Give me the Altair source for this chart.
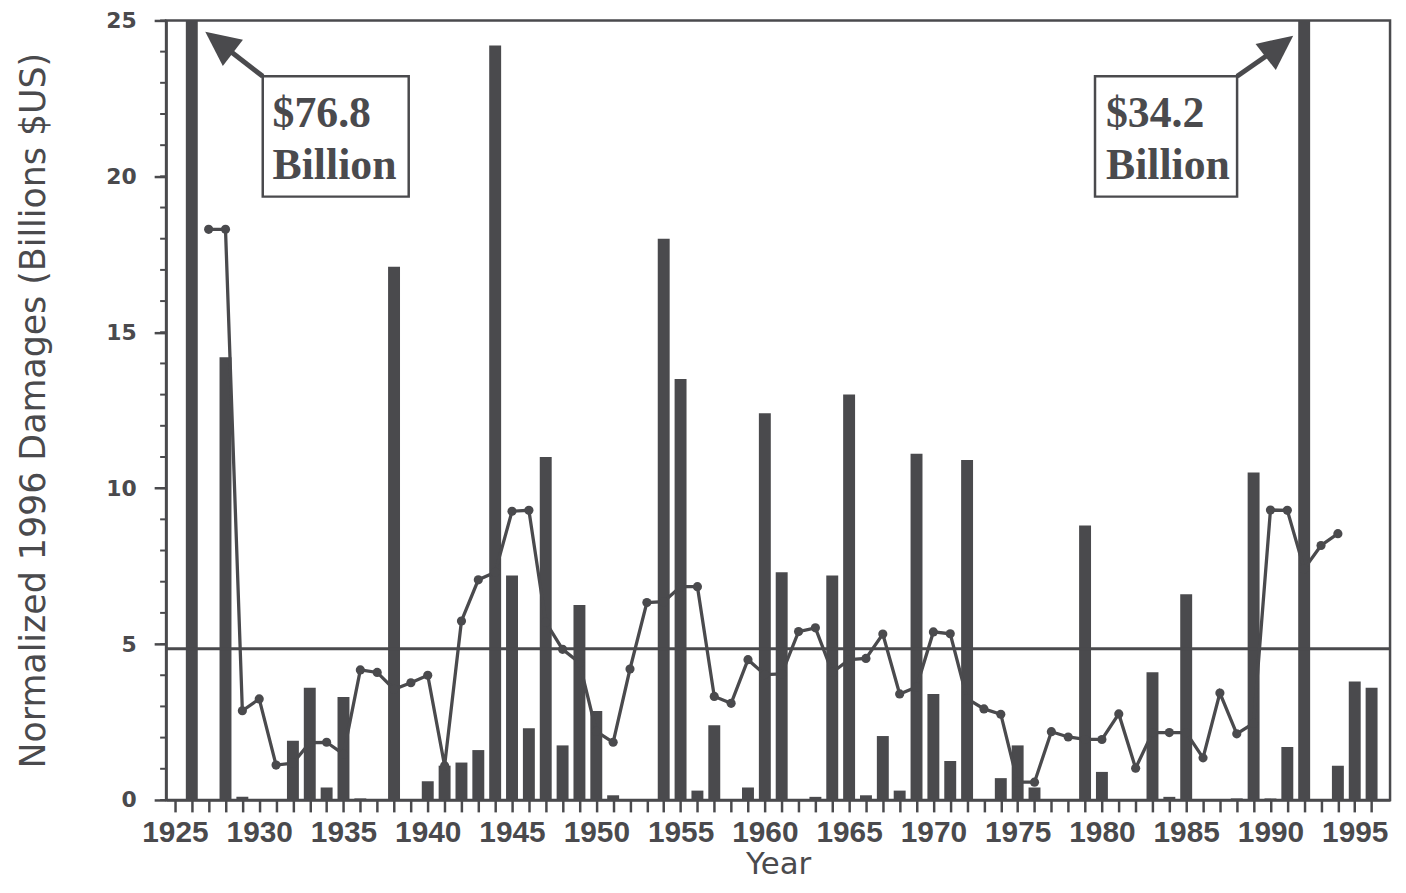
import altair as alt
import pandas as pd

C = "#4a4a4d"

# ---- data ----
years = list(range(1925, 1997))
damages = [0, 76.8, 0, 14.2, 0.1, 0, 0, 1.9, 3.6, 0.4,
           3.3, 0.05, 0, 17.1, 0, 0.6, 1.1, 1.2, 1.6, 24.2,
           7.2, 2.3, 11.0, 1.75, 6.25, 2.85, 0.15, 0, 0, 18.0,
           13.5, 0.3, 2.4, 0, 0.4, 12.4, 7.3, 0, 0.1, 7.2,
           13.0, 0.15, 2.05, 0.3, 11.1, 3.4, 1.25, 10.9, 0, 0.7,
           1.75, 0.4, 0, 0, 8.8, 0.9, 0, 0, 4.1, 0.1,
           6.6, 0, 0, 0.05, 10.5, 0.05, 1.7, 34.2, 0, 1.1,
           3.8, 3.6]

smooth_years = list(range(1927, 1995))
smooth_vals = [18.3, 18.3, 2.86, 3.24, 1.12, 1.18, 1.84, 1.85, 1.47, 4.17,
               4.09, 3.55, 3.76, 4.0, 1.1, 5.74, 7.06, 7.3, 9.26, 9.29,
               5.7, 4.83, 4.4, 2.2, 1.85, 4.2, 6.33, 6.36, 6.84, 6.84,
               3.32, 3.1, 4.5, 4.02, 4.04, 5.4, 5.52, 4.09, 4.5, 4.54,
               5.32, 3.4, 3.62, 5.39, 5.33, 3.25, 2.92, 2.75, 0.57, 0.57,
               2.19, 2.02, 1.94, 1.94, 2.76, 1.02, 2.16, 2.16, 2.16, 1.35,
               3.43, 2.12, 2.46, 9.3, 9.29, 7.41, 8.16, 8.54]

mean_level = [4.85]
minor_ticks = list(range(0, 26))
x_ticks = list(range(1925, 1997))
y_major = [0, 5, 10, 15, 20, 25]

# annotation boxes (data coordinates)
box_x0 = [1930.21, 1979.59]
box_x1 = [1938.87, 1988.02]
box_y0 = [19.35, 19.35]
box_y1 = [23.21, 23.21]
note_text = ["$76.8", "Billion", "$34.2", "Billion"]
note_x = [1930.79, 1930.79, 1980.24, 1980.24]
note_y = [21.59, 19.93, 21.59, 19.93]
shaft_x0 = [1930.21, 1988.02]
shaft_y0 = [23.21, 23.21]
shaft_x1 = [1927.81, 1990.33]
shaft_y1 = [24.21, 24.08]
tip_x = [1926.80, 1991.35]
tip_y = [24.64, 24.51]
tip_angle = [307.5, 52.3]

# ---- tables ----
bars = pd.DataFrame({"year": years, "v": damages})
smooth = pd.DataFrame({"year": smooth_years, "v": smooth_vals})
mean_df = pd.DataFrame({"v": mean_level})
minor_df = pd.DataFrame({"v": minor_ticks})
boxes = pd.DataFrame({"year": box_x0, "x1": box_x1, "v": box_y0, "y1": box_y1})
notes = pd.DataFrame({"year": note_x, "v": note_y, "t": note_text})
shafts = pd.DataFrame({"year": shaft_x0, "v": shaft_y0, "x1": shaft_x1, "y1": shaft_y1})
tips = pd.DataFrame({"year": tip_x, "v": tip_y, "ang": tip_angle})

xs = alt.Scale(domain=[1924.77, 1996.8], nice=False, zero=False)
ys = alt.Scale(domain=[0, 25], nice=False, zero=True)

xaxis = alt.Axis(
    values=x_ticks, format="d",
    labelExpr="datum.value % 5 == 0 ? datum.label : ''",
    tickSize=12, tickWidth=2.5, tickColor=C,
    domainColor=C, domainWidth=2.5,
    labelFont="Liberation Sans", labelFontWeight="bold", labelFontSize=30,
    labelColor=C, labelPadding=6, labelFlush=False, labelOverlap=False,
    grid=False,
    title="Year", titleFont="DejaVu Sans", titleFontSize=31,
    titleFontWeight="normal", titleColor=C, titleY=74, titleBaseline="alphabetic",
)
yaxis = alt.Axis(
    values=y_major, format="d",
    tickSize=12, tickWidth=2.5, tickColor=C,
    domainColor=C, domainWidth=2.5,
    labelFont="DejaVu Sans", labelFontWeight="bold", labelFontSize=22,
    labelColor=C, labelPadding=18, grid=False,
    title="Normalized 1996 Damages (Billions $US)",
    titleFont="DejaVu Sans", titleFontSize=35, titleFontWeight="normal",
    titleColor=C, titleX=-122, titleY=392, titleAngle=270,
    titleAlign="center", titleBaseline="alphabetic",
)

X = alt.X("year:Q", scale=xs, axis=xaxis)
Y = alt.Y("v:Q", scale=ys, axis=yaxis)

bar_layer = alt.Chart(bars).mark_bar(size=12, color=C, clip=True).encode(x=X, y=Y)

mean_layer = alt.Chart(mean_df).mark_rule(color=C, strokeWidth=3).encode(y=Y)

line_layer = alt.Chart(smooth).mark_line(
    color=C, strokeWidth=3.3,
    point=alt.OverlayMarkDef(filled=True, size=85, color=C, opacity=1),
).encode(x=X, y=Y)

minor_layer = alt.Chart(minor_df).mark_rule(color=C, strokeWidth=2).encode(
    y=Y, x=alt.value(-6), x2=alt.value(0)
)

box_layer = alt.Chart(boxes).mark_rect(fill="white", stroke=C, strokeWidth=2.5).encode(
    x=X, x2="x1:Q", y=Y, y2="y1:Q"
)

shaft_layer = alt.Chart(shafts).mark_rule(color=C, strokeWidth=5).encode(
    x=X, y=Y, x2="x1:Q", y2="y1:Q"
)

tip_layer = alt.Chart(tips).mark_point(
    shape="M0,0L0.95,2L-0.95,2Z", filled=True, size=1225, color=C, opacity=1
).encode(x=X, y=Y, angle=alt.Angle("ang:Q", scale=None))

text_layer = alt.Chart(notes).mark_text(
    font="Liberation Serif", fontWeight="bold", fontSize=44, color=C,
    align="left", baseline="alphabetic",
).encode(x=X, y=Y, text="t:N")

chart = alt.layer(
    bar_layer, mean_layer, line_layer, minor_layer,
    box_layer, shaft_layer, tip_layer, text_layer,
).properties(
    width=1231, height=784,
    autosize=alt.AutoSizeParams(type="none"),
    padding={"left": 159, "top": 10, "right": 8, "bottom": 83},
    background="white",
).configure_view(stroke=C, strokeWidth=2.5)

chart.save("out.html", embed_options={"renderer": "svg", "actions": False})
